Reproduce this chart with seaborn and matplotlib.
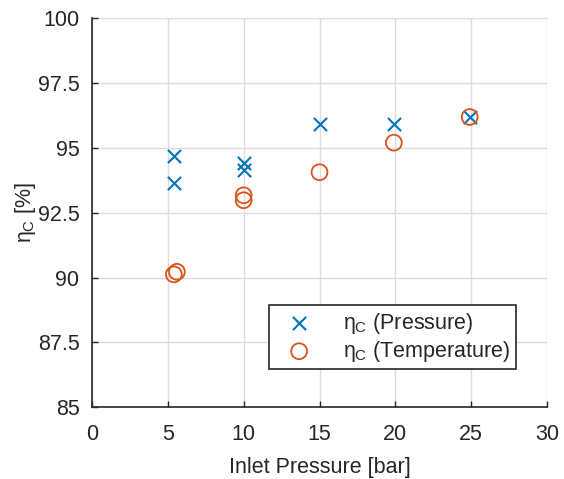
import matplotlib
matplotlib.use("Agg")
import matplotlib.pyplot as plt
import seaborn as sns
import pandas as pd

p_x = [5.4, 5.4, 10.0, 10.0, 15.0, 19.9, 24.9]
p_y = [94.68, 93.64, 94.42, 94.14, 95.91, 95.91, 96.19]
t_x = [5.4, 5.6, 10.0, 10.0, 15.0, 19.9, 24.9]
t_y = [90.12, 90.22, 93.17, 92.98, 94.06, 95.20, 96.19]

labels = [r"$\eta_\mathrm{C}$ (Pressure)", r"$\eta_\mathrm{C}$ (Temperature)"]
xticks = [0, 5, 10, 15, 20, 25, 30]
yticks = [85, 87.5, 90, 92.5, 95, 97.5, 100]
ytick_labels = ["85", "87.5", "90", "92.5", "95", "97.5", "100"]

sns.set_theme(style="whitegrid")
plt.rcParams['font.family'] = ['Liberation Sans', 'DejaVu Sans']
plt.rcParams['mathtext.fontset'] = 'custom'
plt.rcParams['mathtext.rm'] = 'Liberation Sans'
plt.rcParams['mathtext.it'] = 'Liberation Sans'

dfp = pd.DataFrame({"x": p_x, "y": p_y})
dft = pd.DataFrame({"x": t_x, "y": t_y})

fig = plt.figure(figsize=(5.64, 4.79), dpi=100)
ax = fig.add_axes([0.163, 0.150, 0.807, 0.812])

blue = "#0072BD"
orange = "#D95319"
fs = 15.5
sns.scatterplot(data=dfp, x="x", y="y", ax=ax, marker="x", s=90, color=blue,
                linewidth=1.5, label=labels[0], zorder=3)
sns.scatterplot(data=dft, x="x", y="y", ax=ax, marker="o", s=130,
                facecolors="none", edgecolor=orange, linewidth=1.3,
                label=labels[1], zorder=3)

ax.set_xlim(0, 30)
ax.set_ylim(85, 100)
ax.set_xticks(xticks)
ax.set_yticks(yticks)
ax.set_yticklabels(ytick_labels)
ax.tick_params(axis="both", labelsize=fs, direction="in", length=4, width=1,
               colors="#262626", left=True, bottom=True)
ax.tick_params(axis="x", pad=12)
ax.tick_params(axis="y", pad=9)
ax.set_xlabel("Inlet Pressure [bar]", fontsize=fs, color="#262626", labelpad=9)
ax.set_ylabel(r"$\eta_\mathrm{C}$ [%]", fontsize=fs, color="#262626", labelpad=0)
ax.grid(True, color="#dcdcdc", linewidth=1)
ax.set_facecolor("white")
for s in ["top", "right"]:
    ax.spines[s].set_visible(False)
for s in ["left", "bottom"]:
    ax.spines[s].set_color("#262626")
    ax.spines[s].set_linewidth(1.2)

leg = ax.legend(loc="upper left", bbox_to_anchor=(0.389, 0.262), fontsize=fs,
                frameon=True, fancybox=False, edgecolor="#262626",
                borderpad=0.25, handletextpad=0.9, labelspacing=0.15,
                borderaxespad=0, handlelength=2.3)
leg.get_frame().set_linewidth(1.2)
leg.get_frame().set_facecolor("white")
leg.get_frame().set_alpha(1)

fig.savefig("out.png", dpi=100)
